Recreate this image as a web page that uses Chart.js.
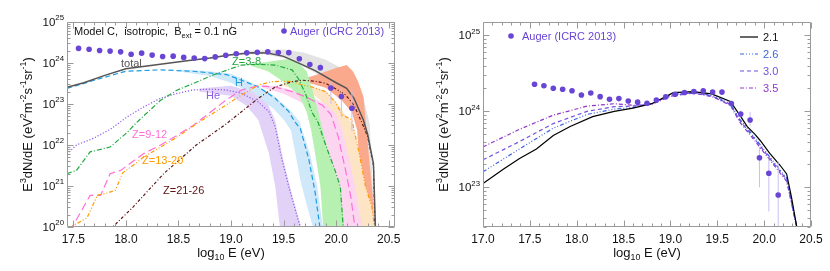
<!DOCTYPE html>
<html>
<head>
<meta charset="utf-8">
<script src="https://cdn.jsdelivr.net/npm/chart.js@4.4.1/dist/chart.umd.min.js"></script>
<style>
  body { margin: 0; background: #fff; }
  #wrap { position: relative; width: 830px; height: 271px; }
  #wrap canvas { position: absolute; top: 0; }
</style>
</head>
<body>
<div id="wrap">
  <canvas id="left" width="415" height="271" style="left:0"></canvas>
  <canvas id="right" width="415" height="271" style="left:415px"></canvas>
</div>
<script>
// ---- data: [log10 E, E^3 dN/dE] ----
const augerLogE = [17.55, 17.65, 17.75, 17.85, 17.95, 18.05, 18.15, 18.25, 18.35, 18.45, 18.55, 18.65, 18.75, 18.85,
  18.95, 19.05, 19.15, 19.25, 19.35, 19.45, 19.55, 19.65, 19.75, 19.85, 19.95, 20.05, 20.15];
const augerFlux = [2.27e24, 2.17e24, 2.01e24, 1.95e24, 1.87e24, 1.64e24, 1.74e24, 1.56e24, 1.44e24, 1.47e24, 1.37e24,
  1.32e24, 1.28e24, 1.41e24, 1.55e24, 1.68e24, 1.77e24, 1.82e24, 1.87e24, 1.80e24, 1.79e24, 1.27e24, 9.2e23, 7.7e23,
  2.45e23, 1.53e23, 7.9e22];
const augerLo = [null, null, null, null, null, null, null, null, null, null, null, null, null, null, null, null, null,
  null, null, null, null, 1.2e24, 8.3e23, 6.5e23, 1.0e23, 4.8e22, 2.2e22];
const augerHi = [null, null, null, null, null, null, null, null, null, null, null, null, null, null, null, null, null,
  null, null, null, null, 1.35e24, 1.02e24, 9.8e23, 3.4e23, 2.4e23, 2.2e23];

// left panel: model C composition
const totalCurve = [[17.44, 2.55e23], [17.6, 3.3e23], [17.8, 5.0e23], [18.0, 7.2e23], [18.2, 8.5e23], [18.4, 9.8e23],
  [18.6, 1.15e24], [18.8, 1.32e24], [19.0, 1.58e24], [19.2, 1.78e24], [19.35, 1.76e24], [19.5, 1.45e24], [19.65, 9.8e23],
  [19.8, 6.5e23], [20.0, 3.3e23], [20.1, 2.4e23], [20.17, 1.38e23], [20.26, 4.0e22], [20.3, 1.8e22], [20.355, 3.5e21],
  [20.375, 8e19]];
const hCurve = [[17.44, 2.4e23], [17.7, 3.8e23], [18.0, 6.3e23], [18.33, 6.8e23], [18.64, 6.3e23], [18.96, 5.2e23],
  [19.1, 3.8e23], [19.26, 2.6e23], [19.42, 1.38e23], [19.55, 6.5e22], [19.61, 3.6e22], [19.66, 2.5e22], [19.74, 4.5e21],
  [19.8, 7e20], [19.85, 8e19]];
const heCurve = [[17.44, 6.0e21], [17.53, 1.0e22], [17.69, 1.45e22], [17.85, 2.4e22], [18.01, 4.8e22], [18.17, 8.5e22],
  [18.33, 1.38e23], [18.49, 1.82e23], [18.64, 2.2e23], [18.8, 2.3e23], [18.95, 2.2e23], [19.1, 1.82e23], [19.26, 1.12e23],
  [19.36, 6.5e22], [19.42, 2.8e22], [19.48, 5.0e21], [19.55, 9.5e20], [19.64, 1.45e20], [19.67, 8e19]];
const z3to8Curve = [[17.44, 2.0e21], [17.53, 2.4e21], [17.66, 6.8e21], [17.85, 8.9e21], [18.01, 2.0e22], [18.1, 3.5e22],
  [18.33, 1.23e23], [18.49, 2.2e23], [18.64, 3.16e23], [18.83, 5.1e23], [18.99, 7.1e23], [19.1, 8.9e23], [19.26, 9.3e23],
  [19.42, 8.9e23], [19.58, 6.8e23], [19.64, 4.2e23], [19.71, 1.74e23], [19.77, 6.3e22], [19.83, 3.5e22], [19.88, 1.41e22],
  [19.93, 6.2e21], [19.99, 2.4e21], [20.04, 9.5e20], [20.07, 8e19]];
const z9to12Curve = [[17.47, 8e19], [17.49, 1.0e20], [17.66, 5.9e20], [17.76, 5.9e20], [17.85, 2.0e21], [17.95, 2.4e21],
  [18.17, 6.2e21], [18.33, 1.0e22], [18.49, 1.74e22], [18.64, 3.0e22], [18.77, 5.4e22], [18.95, 1.23e23], [19.1, 2.2e23],
  [19.26, 2.75e23], [19.42, 2.6e23], [19.58, 2.0e23], [19.71, 1.5e23], [19.87, 9.3e22], [19.95, 5.6e22], [20.02, 1.6e22],
  [20.09, 2.4e21], [20.14, 5.4e20], [20.17, 1.45e20], [20.185, 8e19]];
const z13to20Curve = [[17.44, 9e19], [17.63, 1.66e20], [17.73, 6.0e20], [17.83, 6.8e20], [17.9, 7.9e20], [17.97, 2.1e21],
  [18.07, 3.2e21], [18.17, 5.1e21], [18.33, 8.9e21], [18.49, 1.58e22], [18.68, 3.4e22], [18.95, 9.3e22], [19.1, 1.66e23],
  [19.26, 2.9e23], [19.39, 3.5e23], [19.49, 3.6e23], [19.58, 3.5e23], [19.68, 2.9e23], [19.77, 2.6e23], [19.9, 2.0e23],
  [19.99, 1.12e23], [20.06, 5.4e22], [20.15, 4.1e22], [20.22, 6.2e21], [20.28, 9.5e20], [20.34, 3.1e20], [20.37, 8e19]];
const z21to26Curve = [[17.86, 8e19], [17.875, 1.0e20], [18.07, 3.1e20], [18.36, 2.0e21], [18.67, 1.0e22], [18.95, 3.2e22],
  [19.1, 6.5e22], [19.26, 1.38e23], [19.42, 2.6e23], [19.58, 3.5e23], [19.68, 3.8e23], [19.8, 3.6e23], [19.9, 3.2e23],
  [19.99, 2.4e23], [20.09, 1.66e23], [20.17, 9.3e22], [20.25, 3.3e22], [20.3, 1.6e22], [20.355, 3.2e21], [20.37, 8e19]];

// uncertainty bands: upper and lower edges
const totalBandTop = [[18.6, 1.17e24], [18.85, 1.41e24], [19.0, 1.66e24], [19.2, 2.0e24], [19.5, 2.14e24], [19.7, 1.78e24],
  [19.9, 1.2e24], [20.05, 7.6e23], [20.15, 4.5e23], [20.25, 1.78e23], [20.32, 3.2e22], [20.37, 8e19]];
const totalBandBottom = [[18.6, 1.12e24], [18.85, 1.32e24], [19.1, 1.58e24], [19.3, 1.66e24], [19.5, 1.32e24],
  [19.65, 9.1e23], [19.8, 5.8e23], [19.95, 3.2e23], [20.1, 2.0e23], [20.2, 7.9e22], [20.3, 1.0e22], [20.36, 8e19]];
const hBandTop = [[18.5, 6.9e23], [18.8, 6.3e23], [19.0, 5.5e23], [19.2, 3.3e23], [19.4, 1.66e23], [19.55, 7.6e22],
  [19.65, 3.8e22], [19.75, 6.3e21], [19.82, 1.0e21], [19.88, 8e19]];
const hBandBottom = [[18.5, 6.2e23], [18.8, 4.8e23], [19.0, 3.3e23], [19.2, 1.78e23], [19.4, 7.9e22], [19.5, 4.2e22],
  [19.57, 2.3e22], [19.66, 1.38e21], [19.72, 3.5e20], [19.79, 8e19]];
const heBandTop = [[18.7, 2.4e23], [19.0, 2.8e23], [19.2, 2.0e23], [19.35, 1.0e23], [19.42, 4.0e22], [19.5, 4.0e21],
  [19.6, 4.0e20], [19.68, 8e19]];
const heBandBottom = [[18.7, 2.0e23], [19.0, 1.58e23], [19.15, 8.9e22], [19.26, 4.1e22], [19.36, 6.3e21], [19.42, 1.0e21],
  [19.47, 8e19]];
const z3to8BandTop = [[19.2, 9.3e23], [19.4, 1.12e24], [19.55, 1.25e24], [19.64, 1.0e24], [19.72, 6.3e23], [19.78, 2.0e23],
  [19.84, 5.0e22], [19.88, 2.0e22], [19.93, 6.3e21], [19.99, 2.2e21], [20.04, 8.9e20], [20.08, 8e19]];
const z3to8BandBottom = [[19.2, 8.3e23], [19.35, 6.3e23], [19.5, 3.5e23], [19.65, 1.58e23], [19.72, 6.3e22],
  [19.76, 2.5e22], [19.8, 6.3e21], [19.85, 1.0e21], [19.88, 8e19]];
const z9to12BandTop = [[19.3, 2.9e23], [19.5, 2.5e23], [19.7, 1.78e23], [19.9, 1.0e23], [20.0, 5.6e22], [20.06, 2.3e22],
  [20.12, 5.0e21], [20.18, 1.0e21], [20.25, 8e19]];
const z9to12BandBottom = [[19.3, 2.5e23], [19.5, 1.78e23], [19.7, 1.0e23], [19.8, 5.6e22], [19.86, 2.3e22], [19.95, 4.0e21],
  [20.02, 6.3e20], [20.07, 8e19]];
const z13to20BandTop = [[19.5, 3.8e23], [19.7, 3.0e23], [19.9, 2.1e23], [20.0, 1.15e23], [20.08, 5.6e22], [20.16, 3.2e22],
  [20.22, 6.3e21], [20.28, 1.0e21], [20.34, 3.2e20], [20.37, 8e19]];
const z13to20BandBottom = [[19.5, 2.8e23], [19.8, 1.58e23], [19.95, 7.1e22], [20.06, 2.3e22], [20.12, 4.0e21],
  [20.17, 6.3e20], [20.2, 8e19]];
const z21to26BandTop = [[19.6, 3.6e23], [19.8, 5.0e23], [20.0, 7.6e23], [20.1, 8.9e23], [20.16, 6.3e23], [20.21, 3.5e23],
  [20.26, 1.5e23], [20.29, 2.3e22], [20.32, 3.2e21], [20.35, 5.0e20], [20.36, 8e19]];
const z21to26BandBottom = [[19.6, 3.3e23], [19.75, 3.2e23], [19.9, 2.5e23], [20.05, 1.26e23], [20.15, 6.3e22],
  [20.2, 2.3e22], [20.23, 1.58e21], [20.25, 8e19]];

// right panel: total spectra for several spectral indices
const index21 = [[17.0, 1.12e23], [17.22, 1.74e23], [17.39, 2.4e23], [17.57, 3.2e23], [17.75, 4.8e23], [17.93, 6.3e23],
  [18.17, 8.5e23], [18.4, 1.0e24], [18.6, 1.1e24], [18.8, 1.26e24], [18.9, 1.45e24], [19.03, 1.76e24], [19.24, 1.82e24],
  [19.44, 1.7e24], [19.64, 1.35e24], [19.74, 8.9e23], [19.82, 6.3e23], [19.9, 5.0e23], [19.96, 4.1e23], [20.06, 2.8e23],
  [20.17, 1.95e23], [20.24, 1.5e23], [20.29, 7.6e22], [20.36, 2.5e22]];
const index26 = [[17.0, 1.6e23], [17.39, 3.2e23], [17.75, 6.0e23], [18.11, 9.1e23], [18.4, 1.07e24], [18.6, 1.12e24],
  [18.8, 1.26e24], [19.0, 1.66e24], [19.25, 1.78e24], [19.45, 1.62e24], [19.64, 1.26e24], [19.74, 7.9e23], [19.9, 4.5e23],
  [20.06, 2.5e23], [20.24, 1.32e23], [20.29, 6.9e22], [20.36, 2.5e22]];
const index30 = [[17.0, 2.3e23], [17.39, 4.0e23], [17.75, 6.9e23], [18.11, 1.0e24], [18.4, 1.15e24], [18.6, 1.17e24],
  [18.8, 1.26e24], [19.0, 1.62e24], [19.25, 1.76e24], [19.45, 1.58e24], [19.64, 1.23e24], [19.74, 7.6e23], [19.9, 4.3e23],
  [20.06, 2.4e23], [20.24, 1.26e23], [20.29, 6.6e22], [20.36, 2.5e22]];
const index35 = [[17.0, 3.4e23], [17.39, 5.8e23], [17.75, 8.9e23], [18.11, 1.17e24], [18.4, 1.26e24], [18.6, 1.2e24],
  [18.8, 1.23e24], [19.0, 1.58e24], [19.25, 1.74e24], [19.45, 1.55e24], [19.64, 1.2e24], [19.74, 7.2e23], [19.9, 4.1e23],
  [20.06, 2.3e23], [20.24, 1.2e23], [20.29, 6.3e22], [20.36, 2.5e22]];

const leftXTicks = [17.5, 18.0, 18.5, 19.0, 19.5, 20.0, 20.5];
const rightXTicks = [17.0, 17.5, 18.0, 18.5, 19.0, 19.5, 20.0, 20.5];
const leftYExps = [20, 21, 22, 23, 24, 25];
const rightYExps = [23, 24, 25];
const indexLabels = ['2.1', '2.6', '3.0', '3.5'];

// ---- drawing helpers ----
const FONT = '"Liberation Sans", Arial, Helvetica, sans-serif';
const PURPLE = '#6845d4';

function rich(ctx, parts, x, y, size, align) {
  let w = 0;
  const sized = parts.map(([t, m]) => {
    const s = m === 'n' ? size : size * 0.68;
    ctx.font = s + 'px ' + FONT;
    const pw = ctx.measureText(t).width;
    w += pw;
    return { t, m, s, pw };
  });
  let cx = align === 'center' ? x - w / 2 : align === 'right' ? x - w : x;
  ctx.textAlign = 'left';
  ctx.textBaseline = 'alphabetic';
  sized.forEach(p => {
    ctx.font = p.s + 'px ' + FONT;
    const dy = p.m === 'sup' ? -size * 0.5 : p.m === 'sub' ? size * 0.25 : 0;
    ctx.fillText(p.t, cx, y + dy);
    cx += p.pw;
  });
}

const xy = pairs => pairs.map(([x, y]) => ({ x, y }));

function curve(pairs, color, dash, width) {
  return { data: xy(pairs), borderColor: color, borderDash: dash, borderWidth: width || 1.2,
    pointRadius: 0, fill: false };
}
function band(top, bottom, color) {
  return { data: xy(top.concat(bottom.slice().reverse())), backgroundColor: color,
    borderColor: 'rgba(0,0,0,0)', borderWidth: 0, pointRadius: 0, fill: 'shape' };
}
function augerDots() {
  return { data: augerLogE.map((x, i) => ({ x, y: augerFlux[i] })), showLine: false, pointRadius: 2.8,
    pointBackgroundColor: PURPLE, pointBorderWidth: 0, borderColor: PURPLE };
}
function augerBars() {
  const pts = [];
  augerLogE.forEach((x, i) => {
    if (augerLo[i] == null) return;
    pts.push({ x, y: augerLo[i] }, { x, y: augerHi[i] }, { x, y: null });
  });
  return { data: pts, borderColor: '#c9bff0', borderWidth: 1, pointRadius: 0, spanGaps: false, fill: false };
}

// axis box, inward ticks, tick labels, titles and annotations
const axisDecor = {
  id: 'axisDecor',
  afterDatasetsDraw(chart, args, o) {
    const { ctx, chartArea: a, scales: { x: xs, y: ys } } = chart;
    ctx.save();
    ctx.strokeStyle = '#9a9a9a';
    ctx.lineWidth = 1;
    ctx.setLineDash([]);
    const L = Math.round(a.left) + 0.5, R = Math.round(a.right) - 0.5;
    const T = Math.round(a.top) + 0.5, B = Math.round(a.bottom) - 0.5;
    ctx.beginPath();
    ctx.rect(L, T, R - L, B - T);
    for (let i = Math.ceil(xs.min * 10 - 1e-6); i <= Math.floor(xs.max * 10 + 1e-6); i++) {
      const px = Math.round(xs.getPixelForValue(i / 10)) + 0.5;
      const len = i % 5 === 0 ? 6 : 3;
      ctx.moveTo(px, B); ctx.lineTo(px, B - len);
      ctx.moveTo(px, T); ctx.lineTo(px, T + len);
    }
    const e0 = Math.floor(Math.log10(ys.min)), e1 = Math.ceil(Math.log10(ys.max));
    for (let e = e0; e <= e1; e++) {
      for (let m = 1; m <= 9; m++) {
        const v = m * Math.pow(10, e);
        if (v < ys.min * 0.999 || v > ys.max * 1.001) continue;
        const py = Math.round(ys.getPixelForValue(v)) + 0.5;
        const len = m === 1 ? 6 : 3;
        ctx.moveTo(L, py); ctx.lineTo(L + len, py);
        ctx.moveTo(R, py); ctx.lineTo(R - len, py);
      }
    }
    ctx.stroke();
    ctx.restore();
  },
  afterDraw(chart, args, o) {
    const { ctx, chartArea: a, scales: { x: xs, y: ys } } = chart;
    ctx.save();
    ctx.fillStyle = '#111';
    o.xTicks.forEach(v => rich(ctx, [[v.toFixed(1), 'n']], xs.getPixelForValue(v), a.bottom + 16, 12, 'center'));
    o.yExps.forEach(e => rich(ctx, [['10', 'n'], [String(e), 'sup']], a.left - 3,
      ys.getPixelForValue(Math.pow(10, e)) + 4, 11.5, 'right'));
    rich(ctx, [['log', 'n'], ['10', 'sub'], [' E (eV)', 'n']], (a.left + a.right) / 2, 257, 13, 'center');
    ctx.save();
    ctx.translate(o.yTitleX, (a.top + a.bottom) / 2);
    ctx.rotate(-Math.PI / 2);
    rich(ctx, [['E', 'n'], ['3', 'sup'], ['dN/dE (eV', 'n'], ['2', 'sup'], ['m', 'n'], ['-2', 'sup'], ['s', 'n'],
      ['-1', 'sup'], ['sr', 'n'], ['-1', 'sup'], [')', 'n']], 0, 4, 13, 'center');
    ctx.restore();

    // Auger legend entry
    const g = o.auger;
    ctx.fillStyle = PURPLE;
    ctx.beginPath();
    ctx.arc(g.dotX, g.y - 4, 2.8, 0, Math.PI * 2);
    ctx.fill();
    rich(ctx, [['Auger (ICRC 2013)', 'n']], g.textX, g.y, 11, 'left');

    (o.notes || []).forEach(n => {
      ctx.fillStyle = n.color;
      rich(ctx, n.parts, n.x, n.y, 11, 'left');
    });

    (o.lineLegend || []).forEach(it => {
      ctx.strokeStyle = it.color;
      ctx.lineWidth = 1.2;
      ctx.setLineDash(it.dash);
      ctx.beginPath();
      ctx.moveTo(it.x0, it.y - 4);
      ctx.lineTo(it.x1, it.y - 4);
      ctx.stroke();
      ctx.setLineDash([]);
      ctx.fillStyle = it.textColor;
      rich(ctx, [[it.label, 'n']], it.x1 + 5, it.y, 11, 'left');
    });
    ctx.restore();
  }
};

const DASH = { h: [5, 3], he: [1.2, 1.8], z38: [5, 2, 1, 2], z912: [8, 4], z1320: [4, 2, 1, 2, 1, 2], z2126: [3, 2, 1, 2] };
const C = { h: '#1a9de3', he: '#8c5ce8', z38: '#1fa83c', z912: '#ff6fd6', z1320: '#ff9a00', z2126: '#5c1414' };

new Chart(document.getElementById('left'), {
  type: 'line',
  data: {
    datasets: [
      augerDots(),
      augerBars(),
      curve(totalCurve, '#555555', [], 1.5),
      curve(z21to26Curve, C.z2126, DASH.z2126),
      curve(z13to20Curve, C.z1320, DASH.z1320),
      curve(z9to12Curve, C.z912, DASH.z912),
      curve(z3to8Curve, C.z38, DASH.z38),
      curve(heCurve, C.he, DASH.he),
      curve(hCurve, C.h, DASH.h),
      band(heBandTop, heBandBottom, '#e2d2f8'),
      band(hBandTop, hBandBottom, '#cfe8fa'),
      band(z3to8BandTop, z3to8BandBottom, '#b7f1b2'),
      band(z9to12BandTop, z9to12BandBottom, '#fcd6f1'),
      band(z13to20BandTop, z13to20BandBottom, '#fde4c4'),
      band(z21to26BandTop, z21to26BandBottom, '#fba98c'),
      band(totalBandTop, totalBandBottom, '#e3e3e3')
    ]
  },
  options: {
    responsive: false,
    animation: false,
    events: [],
    layout: { padding: { left: 67, right: 20, top: 22, bottom: 44 } },
    scales: {
      x: { type: 'linear', min: 17.44, max: 20.56, display: false },
      y: { type: 'logarithmic', min: 1e20, max: 1e25, display: false }
    },
    elements: { line: { tension: 0 } },
    plugins: {
      legend: { display: false },
      tooltip: { enabled: false },
      axisDecor: {
        xTicks: leftXTicks,
        yExps: leftYExps,
        yTitleX: 28,
        auger: { dotX: 284, textX: 290, y: 35 },
        notes: [
          { parts: [['Model C,  isotropic,  B', 'n'], ['ext', 'sub'], [' = 0.1 nG', 'n']], x: 74, y: 35, color: '#111' },
          { parts: [['total', 'n']], x: 121, y: 67, color: '#555555' },
          { parts: [['Z=3-8', 'n']], x: 232, y: 65, color: C.z38 },
          { parts: [['H', 'n']], x: 235, y: 86, color: C.h },
          { parts: [['He', 'n']], x: 206, y: 99, color: C.he },
          { parts: [['Z=9-12', 'n']], x: 132, y: 138, color: C.z912 },
          { parts: [['Z=13-20', 'n']], x: 142, y: 164, color: C.z1320 },
          { parts: [['Z=21-26', 'n']], x: 163, y: 194, color: C.z2126 }
        ]
      }
    }
  },
  plugins: [axisDecor]
});

const IDX = [
  { data: index21, color: '#000000', dash: [], text: '#111111' },
  { data: index26, color: '#3d63e0', dash: [4, 2, 1, 2, 1, 2, 1, 2], text: '#3d63e0' },
  { data: index30, color: '#7150e0', dash: [4, 3], text: '#7150e0' },
  { data: index35, color: '#9236cc', dash: [4, 2, 1, 2], text: '#9236cc' }
];

new Chart(document.getElementById('right'), {
  type: 'line',
  data: {
    datasets: [augerDots(), augerBars()].concat(IDX.map(s => curve(s.data, s.color, s.dash, 1.2)))
  },
  options: {
    responsive: false,
    animation: false,
    events: [],
    layout: { padding: { left: 68, right: 19, top: 22, bottom: 44 } },
    scales: {
      x: { type: 'linear', min: 17.0, max: 20.5, display: false },
      y: { type: 'logarithmic', min: 3e22, max: 1.5e25, display: false }
    },
    elements: { line: { tension: 0 } },
    plugins: {
      legend: { display: false },
      tooltip: { enabled: false },
      axisDecor: {
        xTicks: rightXTicks,
        yExps: rightYExps,
        yTitleX: 29,
        auger: { dotX: 96, textX: 107, y: 40 },
        lineLegend: IDX.map((s, i) => ({ label: indexLabels[i], color: s.color, dash: s.dash, textColor: s.text,
          x0: 325, x1: 343, y: [41, 58, 75, 92][i] }))
      }
    }
  },
  plugins: [axisDecor]
});
</script>
</body>
</html>
